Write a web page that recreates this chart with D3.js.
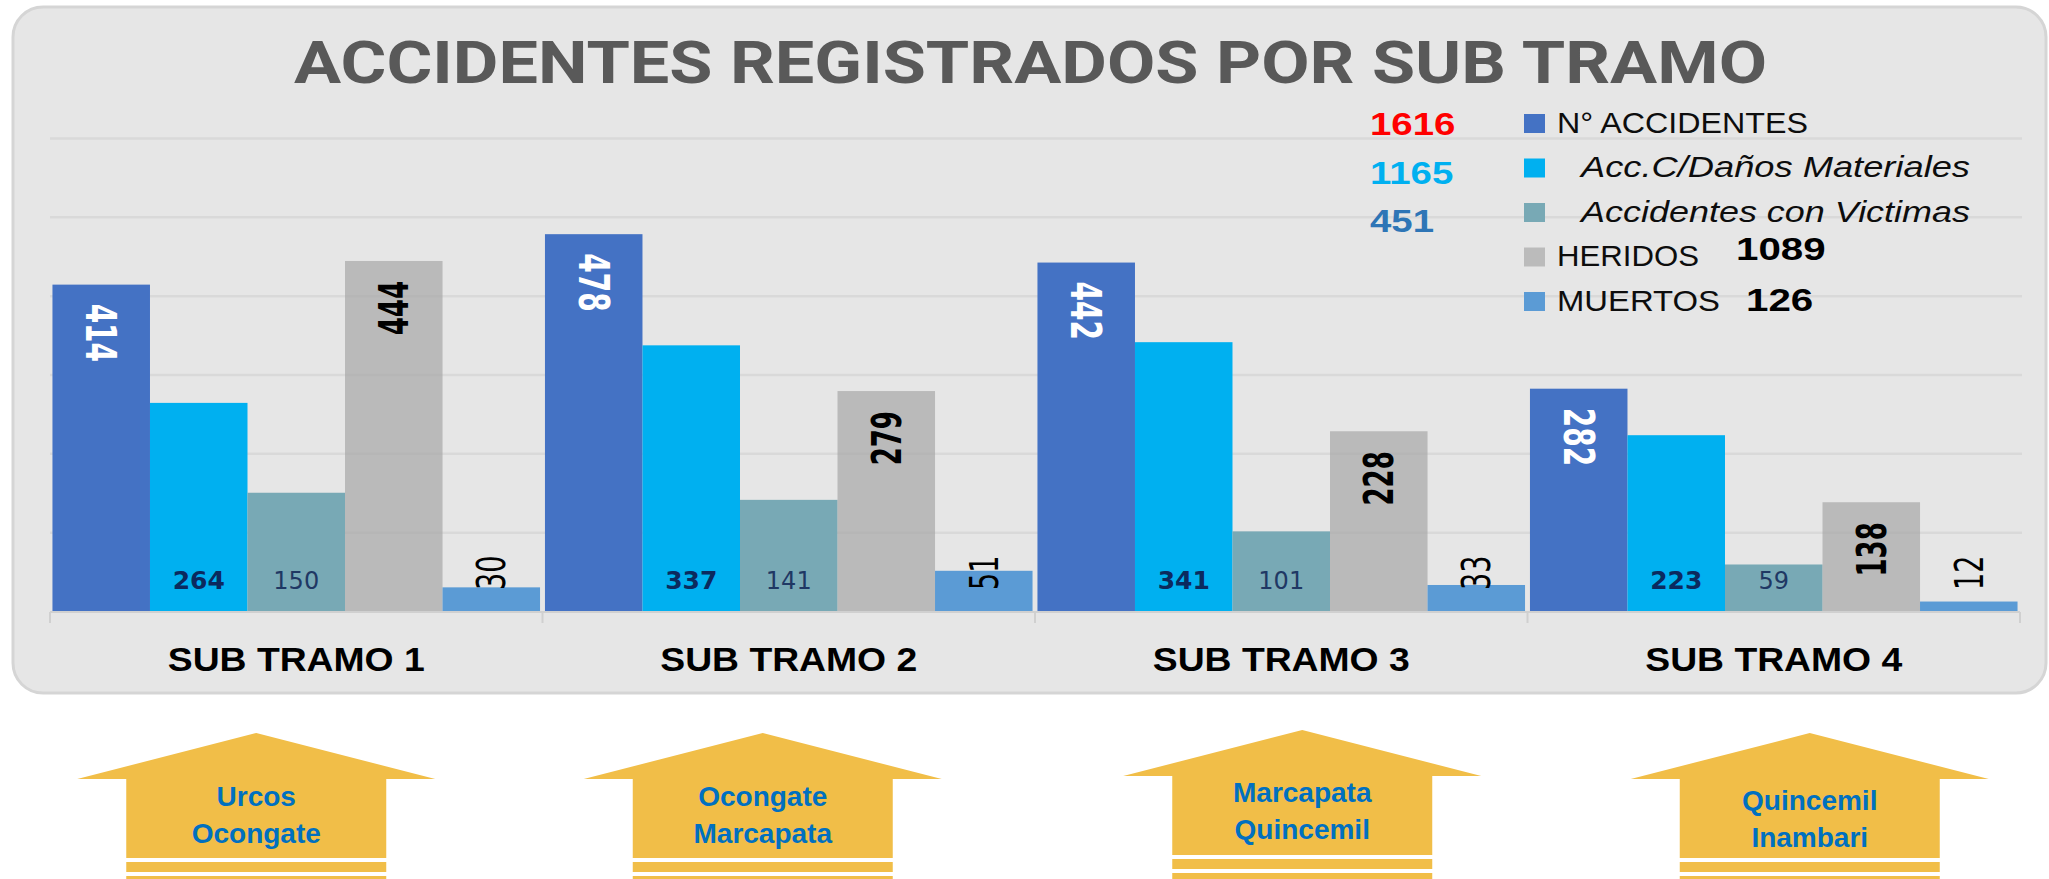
<!DOCTYPE html>
<html>
<head>
<meta charset="utf-8">
<script src="https://cdn.jsdelivr.net/npm/d3@7"></script>
<style>
  body { margin: 0; background: #fff; }
  svg { display: block; }
</style>
</head>
<body>
<svg id="chart"></svg>
<script>
'use strict';
// data
var tramos = ['SUB TRAMO 1', 'SUB TRAMO 2', 'SUB TRAMO 3', 'SUB TRAMO 4'];
var seriesNames = ['N° ACCIDENTES', 'Acc.C/Daños Materiales', 'Accidentes con Victimas', 'HERIDOS', 'MUERTOS'];
var nAccidentes = [414, 478, 442, 282];
var danosMateriales = [264, 337, 341, 223];
var conVictimas = [150, 141, 101, 59];
var heridos = [444, 279, 228, 138];
var muertos = [30, 51, 33, 12];
var gridValues = [100, 200, 300, 400, 500, 600];
var rutas = [['Urcos', 'Ocongate'], ['Ocongate', 'Marcapata'], ['Marcapata', 'Quincemil'], ['Quincemil', 'Inambari']];

var series = [nAccidentes, danosMateriales, conVictimas, heridos, muertos];

var canvasWidth = 2049;
var canvasHeight = 879;
var barColors = ['#4472C4', '#00B0F0', '#78A9B5', '#A3A3A3', '#5B9BD5'];
var keyColors = ['#4472C4', '#00B0F0', '#78A9B5', '#BBBBBB', '#5B9BD5'];

var svg = d3.select('#chart')
  .attr('width', canvasWidth)
  .attr('height', canvasHeight);

// rounded grey panel
svg.append('rect')
  .attr('x', 13).attr('y', 7)
  .attr('width', 2033).attr('height', 686)
  .attr('rx', 30)
  .attr('fill', '#e6e6e6')
  .attr('stroke', '#d5d5d5')
  .attr('stroke-width', 3);

// title
svg.append('text')
  .attr('x', 294).attr('y', 83)
  .attr('textLength', 1473)
  .attr('lengthAdjust', 'spacingAndGlyphs')
  .style('font-family', 'Roboto, sans-serif')
  .style('font-weight', 700)
  .style('font-size', '60px')
  .attr('fill', '#595959')
  .text('ACCIDENTES REGISTRADOS POR SUB TRAMO');

// scales
var x0 = d3.scaleBand().domain(tramos).range([50, 2020]).paddingInner(0.01).paddingOuter(0.005);
var x1 = d3.scaleBand().domain(d3.range(series.length)).range([0, x0.bandwidth()]);
var y = d3.scaleLinear().domain([0, 600]).range([611, 138]);

// gridlines
svg.append('g')
  .attr('transform', 'translate(50,0)')
  .call(d3.axisLeft(y).tickValues(gridValues).tickSize(-1972).tickFormat(''))
  .call(function(g) { g.select('.domain').remove(); })
  .selectAll('line')
  .attr('stroke', '#d9d9d9')
  .attr('stroke-width', 2.5);

// bars
var rows = tramos.map(function(t, i) {
  return series.map(function(s, k) { return {tramo: t, k: k, v: s[i]}; });
});
var groups = svg.selectAll('g.tramo')
  .data(rows)
  .enter().append('g')
  .attr('class', 'tramo')
  .attr('transform', function(d, i) { return 'translate(' + x0(tramos[i]) + ',0)'; });

groups.selectAll('rect')
  .data(function(d) { return d; })
  .enter().append('rect')
  .attr('x', function(d) { return x1(d.k); })
  .attr('y', function(d) { return y(d.v); })
  .attr('width', x1.bandwidth())
  .attr('height', function(d) { return y(0) - y(d.v); })
  .attr('fill', function(d) { return barColors[d.k]; })
  .attr('fill-opacity', function(d) { return d.k === 3 ? 0.65 : 1; });

// value labels, each series has its own style like the original sheet
function labelPos(d) {
  var cx = x1(d.k) + x1.bandwidth() / 2;
  if (d.k === 0) return 'translate(' + cx + ',' + (y(d.v) + 19) + ') scale(1.5,1) rotate(90)';
  if (d.k === 3) return 'translate(' + cx + ',' + (y(d.v) + 20) + ') scale(1.55,1) rotate(-90)';
  if (d.k === 4) return 'translate(' + cx + ',' + (y(0) - 21) + ') scale(1.42,1) rotate(-90)';
  return 'translate(' + cx + ',' + (y(0) - 22) + ')';
}
groups.selectAll('text')
  .data(function(d) { return d; })
  .enter().append('text')
  .attr('transform', labelPos)
  .attr('dy', function(d) { return (d.k === 0 || d.k >= 3) ? '0.36em' : 0; })
  .attr('text-anchor', function(d) {
    if (d.k === 3) return 'end';
    if (d.k === 0 || d.k === 4) return 'start';
    return 'middle';
  })
  .style('font-family', 'DejaVu Sans, sans-serif')
  .style('font-weight', function(d) { return (d.k === 2 || d.k === 4) ? 400 : 700; })
  .style('font-size', function(d) { return ['28px', '25px', '24px', '26px', '27px'][d.k]; })
  .attr('fill', function(d) { return ['#ffffff', '#0b2a5e', '#1f3864', '#000000', '#000000'][d.k]; })
  .text(function(d) { return d.v; });

// category axis
svg.append('line')
  .attr('x1', 50).attr('x2', 2020)
  .attr('y1', y(0) + 1).attr('y2', y(0) + 1)
  .attr('stroke', '#d0d0d0').attr('stroke-width', 2);

var bounds = tramos.map(function(t) { return x0(t) - x0.step() * x0.paddingInner() / 2; });
bounds.push(x0.range()[1]);
svg.selectAll('line.sep')
  .data(bounds)
  .enter().append('line')
  .attr('class', 'sep')
  .attr('x1', function(d) { return d; }).attr('x2', function(d) { return d; })
  .attr('y1', y(0) + 1).attr('y2', y(0) + 12)
  .attr('stroke', '#d0d0d0').attr('stroke-width', 2);

var xAxis = svg.append('g')
  .attr('transform', 'translate(0,671)')
  .call(d3.axisBottom(x0).tickSize(0).tickPadding(0));
xAxis.select('.domain').remove();
xAxis.selectAll('text')
  .attr('y', 0).attr('dy', 0)
  .attr('textLength', 257)
  .attr('lengthAdjust', 'spacingAndGlyphs')
  .style('font-family', 'Liberation Sans, Arial, sans-serif')
  .style('font-weight', 700)
  .style('font-size', '34px')
  .attr('fill', '#000');

// legend
var keyWidths = [251, 389, 389, 142, 163];
var legend = svg.selectAll('g.legend')
  .data(seriesNames)
  .enter().append('g')
  .attr('class', 'legend')
  .attr('transform', function(d, i) { return 'translate(1524,' + (114 + i * 44.5) + ')'; });

legend.append('rect')
  .attr('width', 21)
  .attr('height', 19)
  .attr('fill', function(d, i) { return keyColors[i]; });

legend.append('text')
  .attr('x', function(d, i) { return (i === 1 || i === 2) ? 57 : 33; })
  .attr('y', 18.5)
  .attr('textLength', function(d, i) { return keyWidths[i]; })
  .attr('lengthAdjust', 'spacingAndGlyphs')
  .style('font-family', 'Liberation Sans, Arial, sans-serif')
  .style('font-style', function(d, i) { return (i === 1 || i === 2) ? 'italic' : 'normal'; })
  .style('font-size', '29px')
  .attr('fill', '#0d0d0d')
  .text(function(d) { return d; });

// totals per series
var totals = series.map(function(s) { return d3.sum(s); });
var totalColors = ['#ff0000', '#00b0f0', '#2e75b6'];
svg.selectAll('text.total')
  .data(totals.slice(0, 3))
  .enter().append('text')
  .attr('class', 'total')
  .attr('transform', function(d, i) { return 'translate(1370,' + (135 + i * 48.5) + ') scale(1.2,1)'; })
  .style('font-family', 'Liberation Sans, Arial, sans-serif')
  .style('font-weight', 700)
  .style('font-size', '32px')
  .attr('fill', function(d, i) { return totalColors[i]; })
  .text(function(d) { return d; });

var sideTotalPos = [[1736, 260], [1746, 311]];
svg.selectAll('text.total2')
  .data(totals.slice(3))
  .enter().append('text')
  .attr('class', 'total2')
  .attr('transform', function(d, i) { return 'translate(' + sideTotalPos[i][0] + ',' + sideTotalPos[i][1] + ') scale(1.3,1)'; })
  .style('font-family', 'Liberation Sans, Arial, sans-serif')
  .style('font-weight', 700)
  .style('font-size', '31px')
  .attr('fill', '#000')
  .text(function(d) { return d; });

// yellow arrows under each sub tramo
var arrowShift = [-40, -26, 21, 36];
var arrowLift = [0, 0, -3, 0];
var textLift = [0, 0, -4, 4];
var arrows = svg.selectAll('g.arrow')
  .data(rutas)
  .enter().append('g')
  .attr('class', 'arrow')
  .attr('transform', function(d, i) {
    var cx = x0(tramos[i]) + x0.bandwidth() / 2 + arrowShift[i];
    return 'translate(' + cx + ',' + arrowLift[i] + ')';
  });

arrows.append('path')
  .attr('d', 'M0,733 L179,779 L130,779 L130,858 L-130,858 L-130,779 L-179,779 Z')
  .attr('fill', '#f1be48');
arrows.append('rect').attr('x', -130).attr('y', 862).attr('width', 260).attr('height', 10).attr('fill', '#f1be48');
arrows.append('rect').attr('x', -130).attr('y', 876).attr('width', 260).attr('height', 10).attr('fill', '#f1be48');

arrows.selectAll('text')
  .data(function(d, i) { return d.map(function(name, j) { return {name: name, j: j, i: i}; }); })
  .enter().append('text')
  .attr('x', 0)
  .attr('y', function(d) { return 806 + d.j * 37 + textLift[d.i] - arrowLift[d.i]; })
  .attr('text-anchor', 'middle')
  .style('font-family', 'Liberation Sans, Arial, sans-serif')
  .style('font-weight', 700)
  .style('font-size', '28px')
  .attr('fill', '#0070c0')
  .text(function(d) { return d.name; });
</script>
</body>
</html>
